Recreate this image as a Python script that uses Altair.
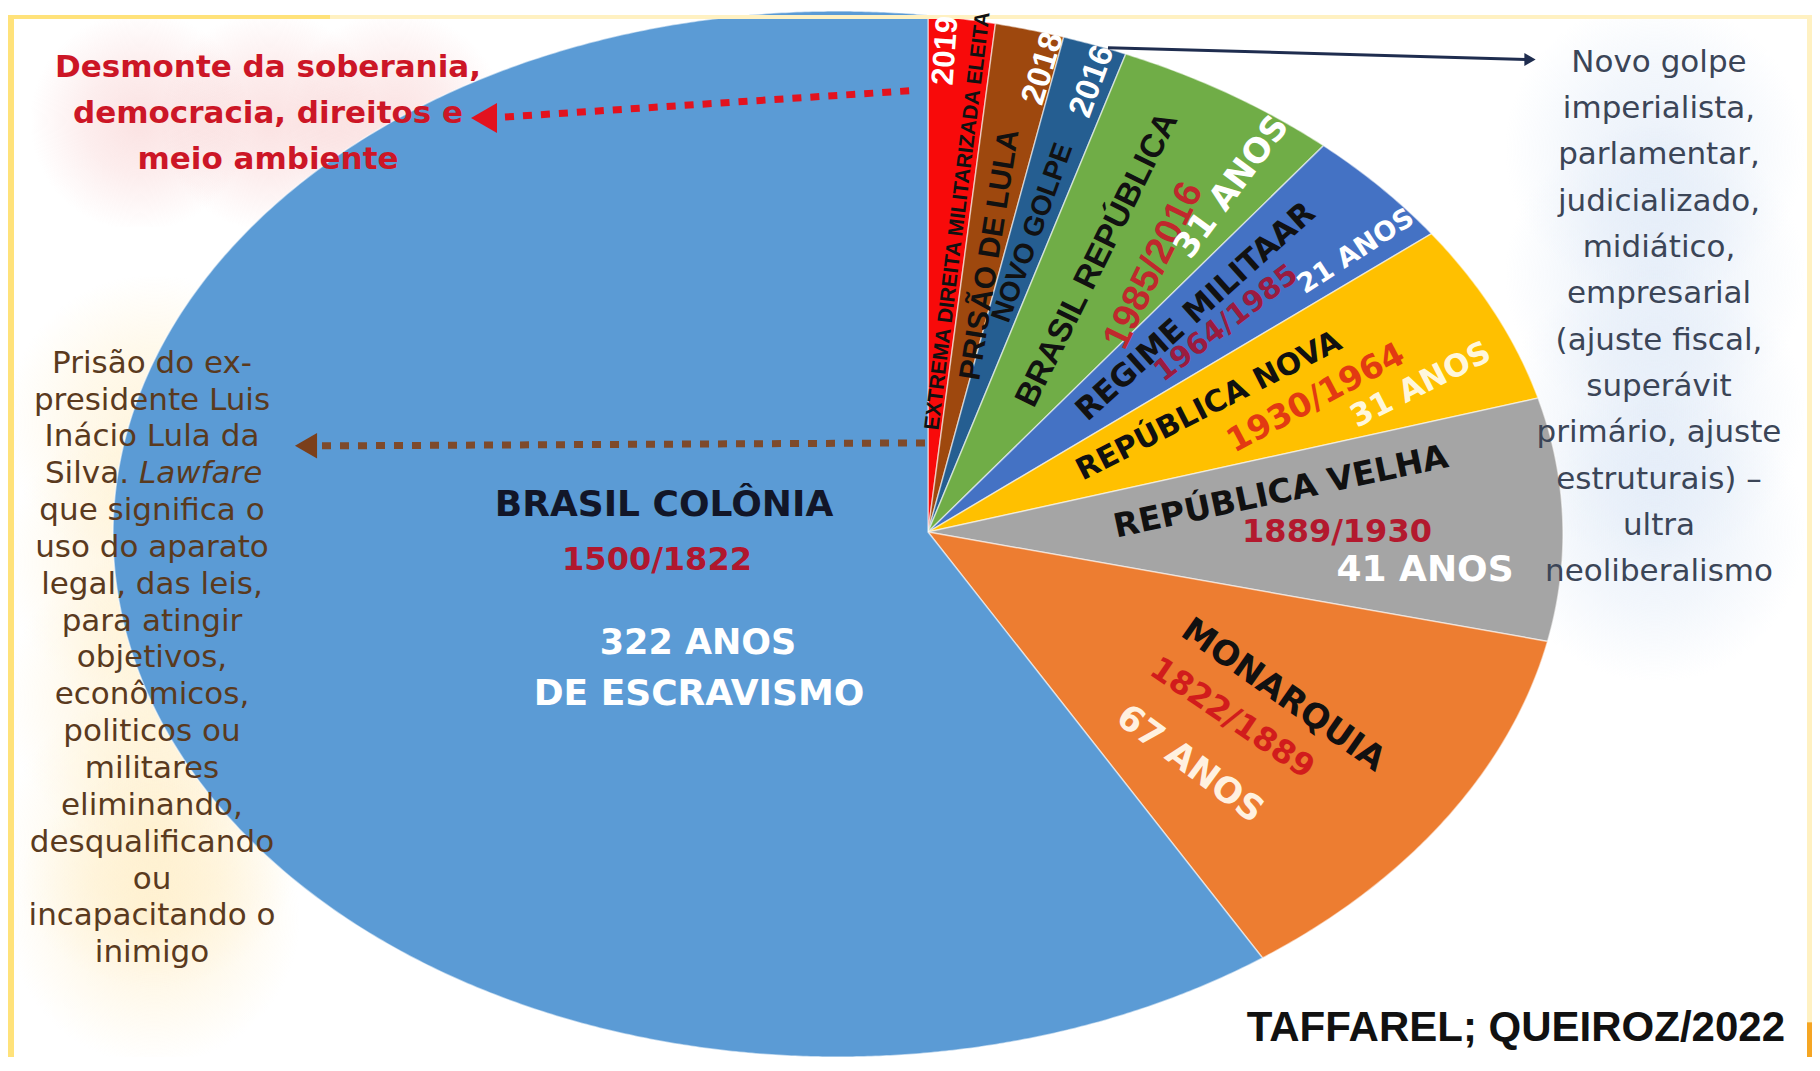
import math
import pandas as pd
import altair as alt

# ------------------------------------------------------------------
# DATA
# ------------------------------------------------------------------
fatias = ["Extrema direita militarizada eleita", "Prisão de Lula", "Novo golpe",
          "Brasil República", "Regime Militar", "República Nova",
          "República Velha", "Monarquia", "Brasil Colônia"]
titulos = ["EXTREMA DIREITA MILITARIZADA ELEITA", "PRISÃO DE LULA", "NOVO GOLPE",
           "BRASIL REPÚBLICA", "REGIME MILITAAR", "REPÚBLICA NOVA",
           "REPÚBLICA VELHA", "MONARQUIA", "BRASIL COLÔNIA"]
periodos = ["2019", "2018", "2016", "1985/2016", "1964/1985", "1930/1964",
            "1889/1930", "1822/1889", "1500/1822"]
anos = [None, None, None, 31, 21, 31, 41, 67, 322]
# share of the (drawn) pie, in %, clockwise from 12 o'clock
share = [2.08, 2.14, 1.97, 6.42, 3.81, 5.11, 6.28, 11.67, 60.53]
cores = ["#F80A0A", "#9E480E", "#255E91", "#70AD47", "#4472C4",
         "#FFC000", "#A5A5A5", "#ED7D31", "#5B9BD5"]

nota_vermelha = ["Desmonte da soberania,", "democracia, direitos e", "meio ambiente"]
nota_marrom = ["Prisão do ex-", "presidente Luis", "Inácio Lula da", "Silva. |Lawfare",
               "que significa o", "uso do aparato", "legal, das leis,", "para atingir",
               "objetivos,", "econômicos,", "politicos  ou", "militares",
               "eliminando,", "desqualificando", "ou", "incapacitando o", "inimigo"]
nota_azul = ["Novo golpe", "imperialista,", "parlamentar,", "judicializado,",
             "midiático,", "empresarial", "(ajuste fiscal,", "superávit",
             "primário, ajuste", "estruturais) –", "ultra", "neoliberalismo"]
fonte = "TAFFAREL; QUEIROZ/2022"

# ------------------------------------------------------------------
# LAYOUT (page pixel frame used by the x / y scales)
# ------------------------------------------------------------------
W, H = 1804, 1052
X0, X1 = 8, 8 + W
Y0, Y1 = 8, 8 + H
xs = alt.Scale(domain=[X0, X1], nice=False, zero=False)
ys = alt.Scale(domain=[Y0, Y1], nice=False, zero=False, reverse=True)

APEX = (928.0, 530.0)          # where the slices meet
ELL_C = (838.0, 532.0)         # centre of the elliptical outline
ELL_R = (725.0, 528.0)         # radii of the outline

LIB = "Liberation Sans"
DJ = "DejaVu Sans"


def ray_to_ellipse(theta_deg):
    th = math.radians(theta_deg)
    dx, dy = math.sin(th), -math.cos(th)
    u = (APEX[0] - ELL_C[0]) / ELL_R[0]
    v = (APEX[1] - ELL_C[1]) / ELL_R[1]
    a = dx / ELL_R[0]
    b = dy / ELL_R[1]
    A = a * a + b * b
    B = 2 * (u * a + v * b)
    C = u * u + v * v - 1
    t = (-B + math.sqrt(B * B - 4 * A * C)) / (2 * A)
    return APEX[0] + t * dx, APEX[1] + t * dy


# pie polygons built from the shares
rows = []
cum = 0.0
total = sum(share)
for nome, s in zip(fatias, share):
    a0 = cum / total * 360.0
    cum += s
    a1 = cum / total * 360.0
    n = max(2, int(math.ceil((a1 - a0) / 0.4)))
    rows.append({"fatia": nome, "k": 0, "px": APEX[0], "py": APEX[1]})
    for j in range(n + 1):
        ang = a0 + (a1 - a0) * j / n
        px, py = ray_to_ellipse(ang)
        rows.append({"fatia": nome, "k": j + 1, "px": px, "py": py})
pie_df = pd.DataFrame(rows)


def X(f="x"):
    return alt.X(f"{f}:Q", scale=xs, axis=None)


def Y(f="y"):
    return alt.Y(f"{f}:Q", scale=ys, axis=None)


def clampx(v):
    return min(max(v, X0), X1)


def clampy(v):
    return min(max(v, Y0), Y1)


def glows(centres, r, rgb, alpha):
    # square boxes (kept inside the frame) with a circular fade to transparent
    recs = []
    for cx, cy in centres:
        recs.append({"x": clampx(cx - r), "x2": clampx(cx + r),
                     "y": clampy(cy - r), "y2": clampy(cy + r)})
    d = pd.DataFrame(recs)
    grad = alt.RadialGradient(
        gradient="radial",
        stops=[alt.GradientStop(offset=0, color=f"rgba({rgb},{alpha})"),
               alt.GradientStop(offset=0.5, color=f"rgba({rgb},{alpha * 0.6})"),
               alt.GradientStop(offset=1, color=f"rgba({rgb},0)")],
    )
    return alt.Chart(d).mark_rect(color=grad, clip=True).encode(
        x=X(), x2="x2:Q", y=Y(), y2="y2:Q")


def band(x0, x1, y0, y1, color):
    d = pd.DataFrame({"x": [x0], "x2": [x1], "y": [y0], "y2": [y1]})
    return alt.Chart(d).mark_rect(color=color, clip=True).encode(
        x=X(), x2="x2:Q", y=Y(), y2="y2:Q")


def txt(t, x, y, size, color, angle=0, font=DJ, weight="bold", align="center",
        baseline="middle", style="normal"):
    d = pd.DataFrame({"x": [x], "y": [y], "t": [t]})
    return alt.Chart(d).mark_text(
        fontSize=size, color=color, angle=angle % 360, font=font,
        fontWeight=weight, align=align, baseline=baseline, fontStyle=style,
    ).encode(x=X(), y=Y(), text="t:N")


def block(lines, xc, y_first, step, size, color, font=DJ, weight="normal"):
    d = pd.DataFrame({"x": [xc] * len(lines),
                      "y": [y_first + step * i for i in range(len(lines))],
                      "t": lines})
    return alt.Chart(d).mark_text(
        fontSize=size, color=color, font=font, fontWeight=weight,
        align="center", baseline="middle",
    ).encode(x=X(), y=Y(), text="t:N")


def rule(x, y, x2, y2, color, width, dash=None):
    d = pd.DataFrame({"x": [x], "y": [y], "x2": [x2], "y2": [y2]})
    kw = dict(color=color, strokeWidth=width, strokeCap="butt")
    if dash:
        kw["strokeDash"] = dash
    return alt.Chart(d).mark_rule(**kw).encode(x=X(), y=Y(), x2="x2:Q", y2="y2:Q")


def head(x, y, shape, size, color):
    d = pd.DataFrame({"x": [x], "y": [y]})
    return alt.Chart(d).mark_point(shape=shape, filled=True, size=size,
                                   color=color, opacity=1).encode(x=X(), y=Y())


layers = []

# soft glows behind the notes
layers.append(glows([(140, 112), (270, 112), (395, 112)], 110, "243,170,170", 0.34))
layers.append(glows([(150, 420), (150, 560), (150, 700), (150, 840), (150, 930)],
                    150, "255,226,160", 0.35))
layers.append(glows([(1655, 130), (1655, 270), (1655, 410), (1655, 530)],
                    150, "196,215,240", 0.35))

# pie
pie = alt.Chart(pie_df).mark_line(
    interpolate="linear-closed", stroke="#ffffff", strokeOpacity=0.55, strokeWidth=1.5
).encode(
    x=X("px"), y=Y("py"),
    fill=alt.Fill("fatia:N", scale=alt.Scale(domain=fatias, range=cores), legend=None),
    detail="fatia:N",
    order=alt.Order("k:Q"),
)
layers.append(pie)

# slide frame (thin yellow bands, small orange mark)
layers.append(band(X0, 330, Y0, Y0 + 4, "#FFE27A"))
layers.append(band(330, X1, Y0, Y0 + 4, "#FFF1C2"))
layers.append(band(X0, X0 + 6, Y0, Y1, "#FFE27A"))
layers.append(band(X1 - 5, X1, Y0, Y1, "#FFF1C2"))
layers.append(band(X1 - 5, X1, 1025, Y1, "#F5A623"))

BLACK = "#111111"
WHITE = "#ffffff"

# slice titles: (index, x, y, angle, size, color, font)
tit_layout = [
    (0, 958, 216, 277, 21, BLACK, LIB),
    (1, 990, 250, 279, 30, BLACK, LIB),
    (2, 1033, 228, 290, 28, BLACK, LIB),
    (3, 1097, 255, 296.5, 33, BLACK, LIB),
    (4, 1196, 308, 318, 31, BLACK, DJ),
    (5, 1209, 403, 333, 30, BLACK, DJ),
    (6, 1281, 490, 348, 33, BLACK, DJ),
    (7, 1283, 695, 35, 34, BLACK, DJ),
    (8, 664, 503, 0, 36, "#121628", DJ),
]
for i, x, y, a, s, c, f in tit_layout:
    layers.append(txt(titulos[i], x, y, s, c, a, f))

per_layout = [
    (0, 946, 44, 274, 31, WHITE, LIB),
    (1, 1043, 62, 287, 33, WHITE, LIB),
    (2, 1092, 75, 290, 33, WHITE, LIB),
    (3, 1154, 261, 296, 38, "#C0282D", LIB),
    (4, 1226, 319, 322.6, 29, "#9B1B3F", DJ),
    (5, 1316, 395, 332, 33, "#E23A12", DJ),
    (6, 1337, 530, 0, 32, "#B3192E", DJ),
    (7, 1232, 718, 34, 32, "#D11C1C", DJ),
    (8, 657, 558, 0, 32, "#B0172E", DJ),
]
for i, x, y, a, s, c, f in per_layout:
    layers.append(txt(periodos[i], x, y, s, c, a, f))

anos_layout = [
    (3, 1232, 182, 306.6, 34, WHITE, DJ),
    (4, 1356, 247, 327, 27, WHITE, DJ),
    (5, 1421, 382, 333, 31, "#FFF7DC", DJ),
    (6, 1425, 568, 0, 36, WHITE, DJ),
    (7, 1190, 764, 36.5, 35, "#FFF1E0", DJ),
    (8, 698, 642, 0, 35, WHITE, DJ),
]
for i, x, y, a, s, c, f in anos_layout:
    layers.append(txt(f"{anos[i]} ANOS", x, y, s, c, a, f))
layers.append(txt("DE ESCRAVISMO", 699, 694, 36, WHITE, 0, DJ))

# arrows
layers.append(rule(505, 111, 917, 84, "#E3121E", 7, [9, 9]))
layers.append(head(484, 112, "triangle-left", 900, "#E3121E"))
layers.append(rule(322, 443, 925, 440, "#7E4A2B", 7, [9, 9]))
layers.append(head(306, 443, "triangle-left", 650, "#7B3F1A"))
layers.append(rule(1108, 41, 1528, 53, "#1F2D4F", 3))
layers.append(head(1530, 53, "triangle-right", 170, "#1F2D4F"))

# notes
layers.append(block(nota_vermelha, 268, 62, 46, 31, "#CC1626", DJ, "bold"))

marrom_lines = [l for l in nota_marrom if "|" not in l]
brown = "#5a3a1e"
step_b = 37.2
fs_b = 31
yb = [360 + step_b * i for i in range(len(nota_marrom))]
d_b = pd.DataFrame({"x": [152] * len(marrom_lines),
                    "y": [yb[i] for i, l in enumerate(nota_marrom) if "|" not in l],
                    "t": marrom_lines})
layers.append(alt.Chart(d_b).mark_text(fontSize=fs_b, color=brown, font=DJ,
                                       align="center", baseline="middle")
              .encode(x=X(), y=Y(), text="t:N"))
for i, l in enumerate(nota_marrom):
    if "|" in l:
        a, b = l.split("|")
        layers.append(txt(a.strip(), 129, yb[i], fs_b, brown, 0, DJ, "normal", "right"))
        layers.append(txt(b.strip(), 139, yb[i], fs_b, brown, 0, DJ, "normal", "left",
                          style="italic"))

layers.append(block(nota_azul, 1659, 56, 46.8, 31, "#3B4557", DJ))

layers.append(txt(fonte, 1785, 1031, 42, "#111111", 0, LIB, "bold", "right"))

chart = alt.layer(*layers).properties(
    width=W, height=H,
    autosize=alt.AutoSizeParams(type="fit", contains="padding"),
    padding=0, background="#ffffff",
).configure_view(strokeWidth=0)

chart.save("out.html", embed_options={"renderer": "svg", "actions": False})
